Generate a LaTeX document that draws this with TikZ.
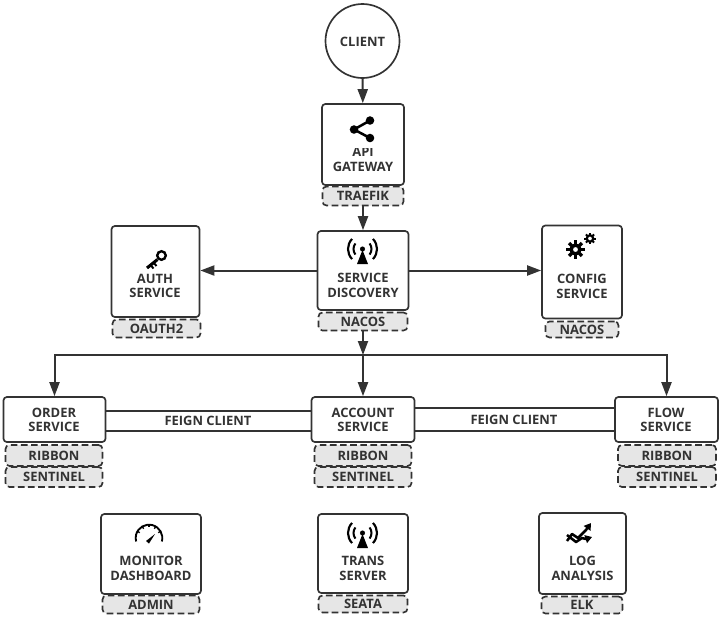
\documentclass[tikz,border=0pt]{standalone}
\usepackage{fontspec}
\setmainfont{Open Sans}
\usetikzlibrary{arrows.meta}
\newcommand{\unitpx}{0.75pt}
\definecolor{inkgray}{HTML}{333333}
\definecolor{taggray}{HTML}{E6E6E6}
\tikzset{
    >={Triangle[length=10.5pt,width=7.5pt]},
    mainbox/.style={draw=inkgray,line width=1.25pt,rounded corners=2.5pt,fill=white,inner sep=0pt},
    tagbox/.style={draw=inkgray,line width=1.25pt,dash pattern=on 5pt off 2.6pt,rounded corners=3pt,fill=taggray,
        inner sep=0pt,text=inkgray,font=\bfseries\fontsize{9.7pt}{11pt}\selectfont},
    boxtext/.style={align=center,text=inkgray,inner sep=0pt,font=\bfseries\fontsize{9.7pt}{10.9pt}\selectfont},
    conn/.style={draw=inkgray,line width=1.5pt},
    icon/.style={black,line width=1.6pt},
}
\newcommand{\iconwifi}[1]{
    \begin{scope}[shift={(#1)}]
        \fill (0,0) circle[radius=1.9pt];
        \fill (0,1) -- (-5.5,15) -- (5.5,15) -- cycle;
        \draw[icon,line width=1.5pt] (0,0) ++(38:9*\unitpx) arc[start angle=38,end angle=-38,radius=9*\unitpx];
        \draw[icon,line width=1.5pt] (0,0) ++(142:9*\unitpx) arc[start angle=142,end angle=218,radius=9*\unitpx];
        \draw[icon,line width=1.6pt] (0,0) ++(44:14.5*\unitpx) arc[start angle=44,end angle=-44,radius=14.5*\unitpx];
        \draw[icon,line width=1.6pt] (0,0) ++(136:14.5*\unitpx) arc[start angle=136,end angle=224,radius=14.5*\unitpx];
    \end{scope}
}
\begin{document}
\begin{tikzpicture}[x=\unitpx,y=-\unitpx]
    \useasboundingbox (0,0) rectangle (725,622);
    \node[mainbox,circle,minimum size=74*\unitpx] (client) at (362.5,41) {};
    \node[boxtext] (clienttext) at (362.5,41.5) {CLIENT};

    \node[mainbox,minimum width=82*\unitpx,minimum height=81*\unitpx] (gateway) at (363,144.5) {};
    \node[boxtext] (gatewaytext) at (363,159.5) {API\\GATEWAY};
    \node[tagbox,minimum width=81*\unitpx,minimum height=19*\unitpx] (traefik) at (363,196) {TRAEFIK};

    \node[mainbox,minimum width=91*\unitpx,minimum height=79*\unitpx] (discovery) at (363,270.5) {};
    \node[boxtext] (discoverytext) at (363,285.5) {SERVICE\\DISCOVERY};
    \node[tagbox,minimum width=89*\unitpx,minimum height=18*\unitpx] (nacosreg) at (363,321.5) {NACOS};

    \node[mainbox,minimum width=88*\unitpx,minimum height=91*\unitpx] (auth) at (155.5,271.5) {};
    \node[boxtext] (authtext) at (155,286) {AUTH\\SERVICE};
    \node[tagbox,minimum width=88*\unitpx,minimum height=18*\unitpx] (oauth) at (156.5,328.5) {OAUTH2};

    \node[mainbox,minimum width=80*\unitpx,minimum height=93*\unitpx] (config) at (582,272) {};
    \node[boxtext] (configtext) at (582,286.5) {CONFIG\\SERVICE};
    \node[tagbox,minimum width=73*\unitpx,minimum height=16*\unitpx] (nacosconf) at (582,329.5) {NACOS};

    \node[mainbox,minimum width=102*\unitpx,minimum height=45*\unitpx] (order) at (54.5,419.5) {};
    \node[boxtext] (ordertext) at (54,420) {ORDER\\SERVICE};
    \node[tagbox,minimum width=97*\unitpx,minimum height=21*\unitpx] (ribbona) at (54,455.5) {RIBBON};
    \node[tagbox,minimum width=97*\unitpx,minimum height=20*\unitpx] (sentinela) at (54,477) {SENTINEL};

    \node[mainbox,minimum width=103*\unitpx,minimum height=45*\unitpx] (account) at (363,419.5) {};
    \node[boxtext] (accounttext) at (363,420) {ACCOUNT\\SERVICE};
    \node[tagbox,minimum width=97*\unitpx,minimum height=21*\unitpx] (ribbonb) at (363,455.5) {RIBBON};
    \node[tagbox,minimum width=97*\unitpx,minimum height=20*\unitpx] (sentinelb) at (363,477) {SENTINEL};

    \node[mainbox,minimum width=103*\unitpx,minimum height=45*\unitpx] (flow) at (666.5,419.5) {};
    \node[boxtext] (flowtext) at (666,420) {FLOW\\SERVICE};
    \node[tagbox,minimum width=98*\unitpx,minimum height=21*\unitpx] (ribbonc) at (667,455.5) {RIBBON};
    \node[tagbox,minimum width=98*\unitpx,minimum height=20*\unitpx] (sentinelc) at (667,477) {SENTINEL};

    \node[mainbox,minimum width=100*\unitpx,minimum height=80*\unitpx] (monitor) at (151,554) {};
    \node[boxtext] (monitortext) at (151,568.5) {MONITOR\\DASHBOARD};
    \node[tagbox,minimum width=97*\unitpx,minimum height=18*\unitpx] (admin) at (151,604.5) {ADMIN};

    \node[mainbox,minimum width=90*\unitpx,minimum height=79*\unitpx] (trans) at (363,553.5) {};
    \node[boxtext] (transtext) at (363,568.5) {TRANS\\SERVER};
    \node[tagbox,minimum width=89*\unitpx,minimum height=17*\unitpx] (seata) at (363,604) {SEATA};

    \node[mainbox,minimum width=87*\unitpx,minimum height=81*\unitpx] (logs) at (582.5,553.5) {};
    \node[boxtext] (logstext) at (582.5,568.5) {LOG\\ANALYSIS};
    \node[tagbox,minimum width=81*\unitpx,minimum height=17*\unitpx] (elk) at (582,605) {ELK};

    \coordinate (bus) at (363,355);

    \draw[conn,->] (client) -- (gateway);
    \draw[conn,->] (traefik) -- (discovery);
    \draw[conn,->] (discovery.west) -- (discovery.west -| auth.east);
    \draw[conn,->] (discovery.east) -- (discovery.east -| config.west);
    \draw[conn,->] (nacosreg) -- (bus);
    \draw[conn,->] (bus) -- (account);
    \draw[conn,->] (bus) -| (order.north);
    \draw[conn,->] (bus) -| (flow.north);

    \draw[conn] ([yshift=6.4pt]order.east) -- ([yshift=6.4pt]order.east -| account.west);
    \draw[conn] ([yshift=-8.6pt]order.east) -- ([yshift=-8.6pt]order.east -| account.west);
    \draw[conn] ([yshift=8.6pt]account.east) -- ([yshift=8.6pt]account.east -| flow.west);
    \draw[conn] ([yshift=-8.6pt]account.east) -- ([yshift=-8.6pt]account.east -| flow.west);
    \node[boxtext] (feignleft) at (208,421) {FEIGN CLIENT};
    \node[boxtext] (feignright) at (514,420) {FEIGN CLIENT};

    % share
    \fill[white] (345,113) rectangle (381,147.5);
    \draw[icon,line width=1.9pt] (370,120.5) -- (354,129.5) -- (370,138);
    \fill (370,120.5) circle[radius=3.2pt];
    \fill (354,129.5) circle[radius=3.2pt];
    \fill (370,138) circle[radius=3.2pt];

    \iconwifi{362.5,249}
    \iconwifi{362.5,533}

    % key
    \draw[icon,line width=1.8pt] (161.5,255.5) circle[radius=3.2pt];
    \draw[icon,line width=2.3pt] (157.5,259.5) -- (147,268);
    \draw[icon,line width=1.5pt] (150.5,265) -- (153.5,268.5);
    \draw[icon,line width=1.5pt] (153.5,262.5) -- (156.5,266);

    % gears
    \draw[icon,line width=2.6pt] (575.5,249.5) circle[radius=3.3pt];
    \foreach \a in {0,45,...,315}
        \draw[icon,line width=2.4pt] (575.5,249.5) ++(\a:4pt) -- ++(\a:2.8pt);
    \draw[icon,line width=1.7pt] (590,238.5) circle[radius=2.4pt];
    \foreach \a in {0,45,...,315}
        \draw[icon,line width=1.5pt] (590,238.5) ++(\a:2.6pt) -- ++(\a:1.7pt);

    % gauge
    \draw[icon,line width=1.4pt] (149,538) ++(-15:10pt) arc[start angle=-15,end angle=195,radius=10pt];
    \foreach \a in {30,60,90,120,150}
        \draw[icon,line width=1pt] (149,538) ++(\a:10pt) -- ++(\a:-2pt);
    \fill (155,534) -- (149,543.5) -- (146,541) -- cycle;

    % chart
    \draw[icon,line width=1.9pt,line join=round,-{Triangle[length=5pt,width=6pt]}] (567,541) -- (572,534) -- (578,538) -- (586,530) -- (591,523);
    \draw[icon,line width=1.9pt,line join=round,-{Triangle[length=5pt,width=6pt]}] (567,535) -- (576,542) -- (582,538) -- (586,539) -- (592,537);
\end{tikzpicture}
\end{document}
